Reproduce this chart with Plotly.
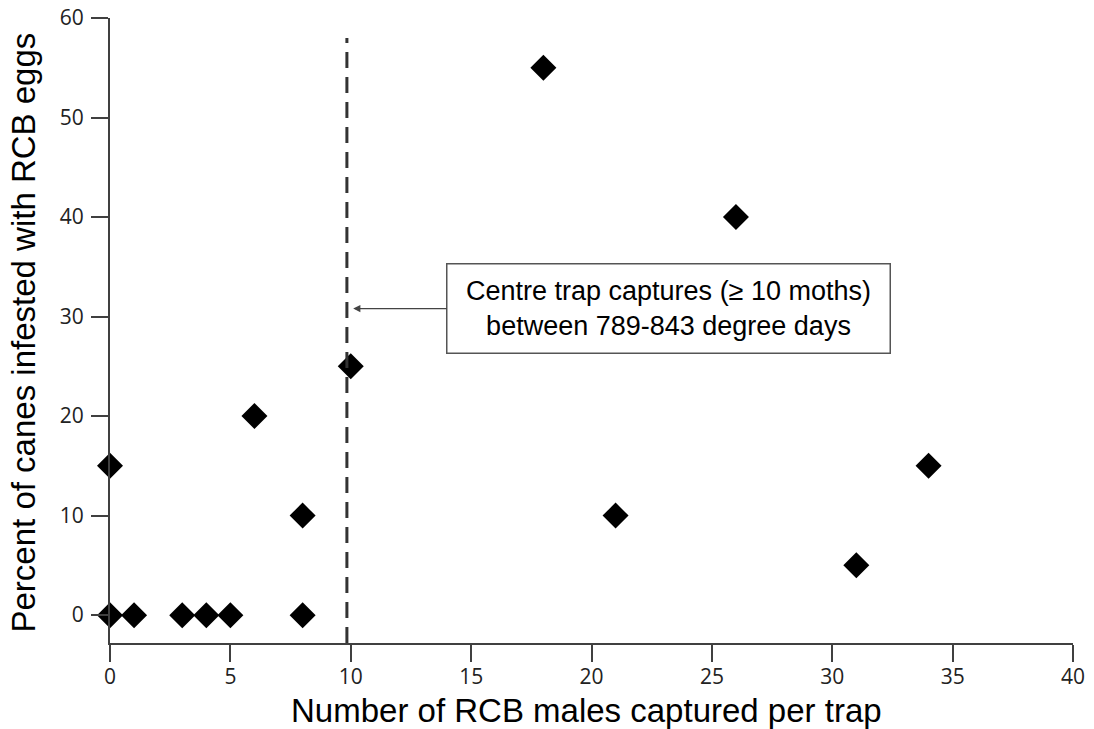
import plotly.graph_objects as go

x_vals = [0, 0, 1, 3, 4, 5, 6, 8, 8, 10, 18, 21, 26, 31, 34]
y_vals = [15, 0, 0, 0, 0, 0, 20, 10, 0, 25, 55, 10, 40, 5, 15]
threshold_x = 9.84
threshold_top = 58
x_ticks = [0, 5, 10, 15, 20, 25, 30, 35, 40]
y_ticks = [0, 10, 20, 30, 40, 50, 60]
annot_text = "Centre trap captures (≥ 10 moths)<br>between 789-843 degree days"
x_title = "Number of RCB males captured per trap"
y_title = "Percent of canes infested with RCB eggs"

fig = go.Figure()
fig.add_trace(go.Scatter(
    x=x_vals, y=y_vals, mode="markers",
    marker=dict(symbol="diamond", size=20, color="black"),
    showlegend=False, cliponaxis=False,
))
fig.add_shape(type="line", xref="x", yref="y",
              x0=threshold_x, x1=threshold_x, y0=-2.8, y1=threshold_top,
              line=dict(color="#333333", width=3, dash="16px,9px"))
fig.add_annotation(
    x=10.1, y=30.8, xref="x", yref="y",
    ax=23.2, ay=30.8, axref="x", ayref="y",
    text=annot_text, showarrow=True, arrowhead=2, arrowsize=1.2, arrowwidth=1.2,
    arrowcolor="#444444",
    font=dict(family="Liberation Sans, Arial", size=27, color="black"),
    bordercolor="#555555", borderwidth=1.5, bgcolor="white",
    width=440, height=86, borderpad=1, align="center",
)
title_font = dict(family="Liberation Sans, Arial", size=33, color="black")
fig.add_annotation(text=x_title, xref="paper", yref="paper", x=0.495, y=0,
                   xanchor="center", yanchor="middle", yshift=-67,
                   showarrow=False, font=title_font)
fig.add_annotation(text=y_title, xref="paper", yref="paper", x=0, y=0.5,
                   xanchor="center", yanchor="middle", xshift=-87, yshift=-2,
                   textangle=-90, showarrow=False, font=title_font)

axis_common = dict(
    showline=True, linecolor="#404040", linewidth=2,
    ticks="outside", ticklen=17, tickwidth=2, tickcolor="#404040",
    showgrid=False, zeroline=False, automargin=False,
    ticklabeloverflow="allow",
    tickfont=dict(family="Open Sans", size=21, color="#222222"),
)
fig.update_xaxes(range=[0, 40], tickvals=x_ticks, ticklabelstandoff=-3, **axis_common)
fig.update_yaxes(range=[-2.8, 60], tickvals=y_ticks, ticklabelstandoff=3, **axis_common)
fig.update_layout(
    width=1094, height=729,
    margin=dict(l=110, r=21, t=18, b=86),
    plot_bgcolor="white", paper_bgcolor="white",
)
fig.write_html("out.html", config={"displayModeBar": False},
               post_script="document.body.style.margin='0';")
